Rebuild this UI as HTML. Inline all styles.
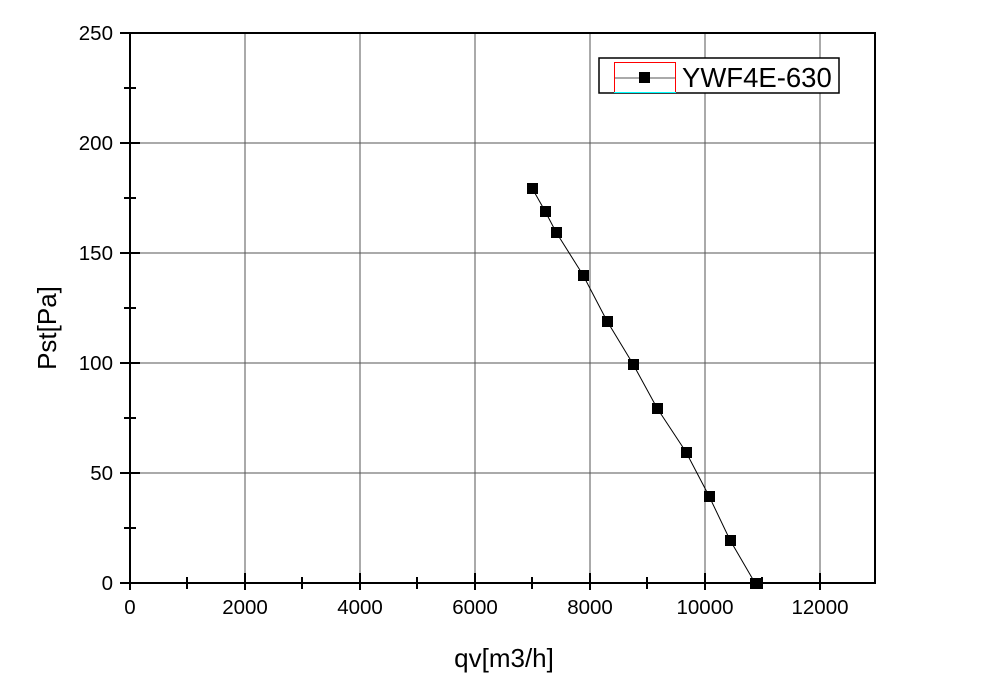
<!DOCTYPE html>
<html><head><style>body{margin:0;background:#fff}svg{display:block}text{font-family:"Liberation Sans",sans-serif}</style></head><body>
<svg width="986" height="682" xmlns="http://www.w3.org/2000/svg">
<g stroke="#555" stroke-width="1">
<line x1="245" y1="33" x2="245" y2="583"/><line x1="360" y1="33" x2="360" y2="583"/><line x1="475" y1="33" x2="475" y2="583"/><line x1="590" y1="33" x2="590" y2="583"/><line x1="705" y1="33" x2="705" y2="583"/><line x1="820" y1="33" x2="820" y2="583"/>
<line x1="130" y1="143" x2="875" y2="143"/><line x1="130" y1="253" x2="875" y2="253"/><line x1="130" y1="363" x2="875" y2="363"/><line x1="130" y1="473" x2="875" y2="473"/>
</g>
<rect x="130" y="33" width="745" height="550" fill="none" stroke="#000" stroke-width="2"/>
<g stroke="#000" stroke-width="2">
<line x1="130" y1="583" x2="130" y2="590"/><line x1="245" y1="573" x2="245" y2="590"/><line x1="360" y1="573" x2="360" y2="590"/><line x1="475" y1="573" x2="475" y2="590"/><line x1="590" y1="573" x2="590" y2="590"/><line x1="705" y1="573" x2="705" y2="590"/><line x1="820" y1="573" x2="820" y2="590"/>
<line x1="187" y1="577" x2="187" y2="589"/><line x1="302" y1="577" x2="302" y2="589"/><line x1="417" y1="577" x2="417" y2="589"/><line x1="532" y1="577" x2="532" y2="589"/><line x1="647" y1="577" x2="647" y2="589"/><line x1="762" y1="577" x2="762" y2="589"/>
<line x1="120" y1="583" x2="140" y2="583"/><line x1="120" y1="473" x2="140" y2="473"/><line x1="120" y1="363" x2="140" y2="363"/><line x1="120" y1="253" x2="140" y2="253"/><line x1="120" y1="143" x2="140" y2="143"/><line x1="120" y1="33" x2="140" y2="33"/>
<line x1="124" y1="528" x2="136" y2="528"/><line x1="124" y1="418" x2="136" y2="418"/><line x1="124" y1="308" x2="136" y2="308"/><line x1="124" y1="198" x2="136" y2="198"/><line x1="124" y1="88" x2="136" y2="88"/>
</g>
<g style="font-size:20.5px" text-anchor="middle" fill="#000">
<text x="130" y="614">0</text><text x="245" y="614">2000</text><text x="360" y="614">4000</text><text x="475" y="614">6000</text><text x="590" y="614">8000</text><text x="705" y="614">10000</text><text x="820" y="614">12000</text>
</g>
<g style="font-size:20.5px" text-anchor="end" fill="#000">
<text x="113" y="590">0</text><text x="113" y="480">50</text><text x="113" y="370">100</text><text x="113" y="260">150</text><text x="113" y="150">200</text><text x="113" y="40">250</text>
</g>
<text x="504" y="667" style="font-size:26px" text-anchor="middle">qv[m3/h]</text>
<text transform="translate(56,328) rotate(-90)" style="font-size:26px" text-anchor="middle">Pst[Pa]</text>
<polyline fill="none" stroke="#000" stroke-width="1" points="532,188 545,211 556,232 583,275 607,321 633,364 657,408 686,452 709,496 730,540 755,583"/>
<g fill="#000">
<rect x="527" y="183" width="11" height="11"/><rect x="540" y="206" width="11" height="11"/><rect x="551" y="227" width="11" height="11"/><rect x="578" y="270" width="11" height="11"/><rect x="602" y="316" width="11" height="11"/><rect x="628" y="359" width="11" height="11"/><rect x="652" y="403" width="11" height="11"/><rect x="681" y="447" width="11" height="11"/><rect x="704" y="491" width="11" height="11"/><rect x="725" y="535" width="11" height="11"/><rect x="750" y="578" width="11" height="11"/>
</g>
<rect x="599" y="58" width="240" height="35" fill="#fff" stroke="#000" stroke-width="1.5"/>
<rect x="614.5" y="62.5" width="61" height="30" fill="none" stroke="#f00" stroke-width="1"/>
<line x1="614" y1="92.5" x2="676" y2="92.5" stroke="#0ff"/>
<line x1="615" y1="78" x2="675" y2="78" stroke="#555"/>
<rect x="639" y="72" width="11" height="11" fill="#000"/>
<text x="682" y="87" style="font-size:27.5px">YWF4E-630</text>
</svg>
</body></html>
